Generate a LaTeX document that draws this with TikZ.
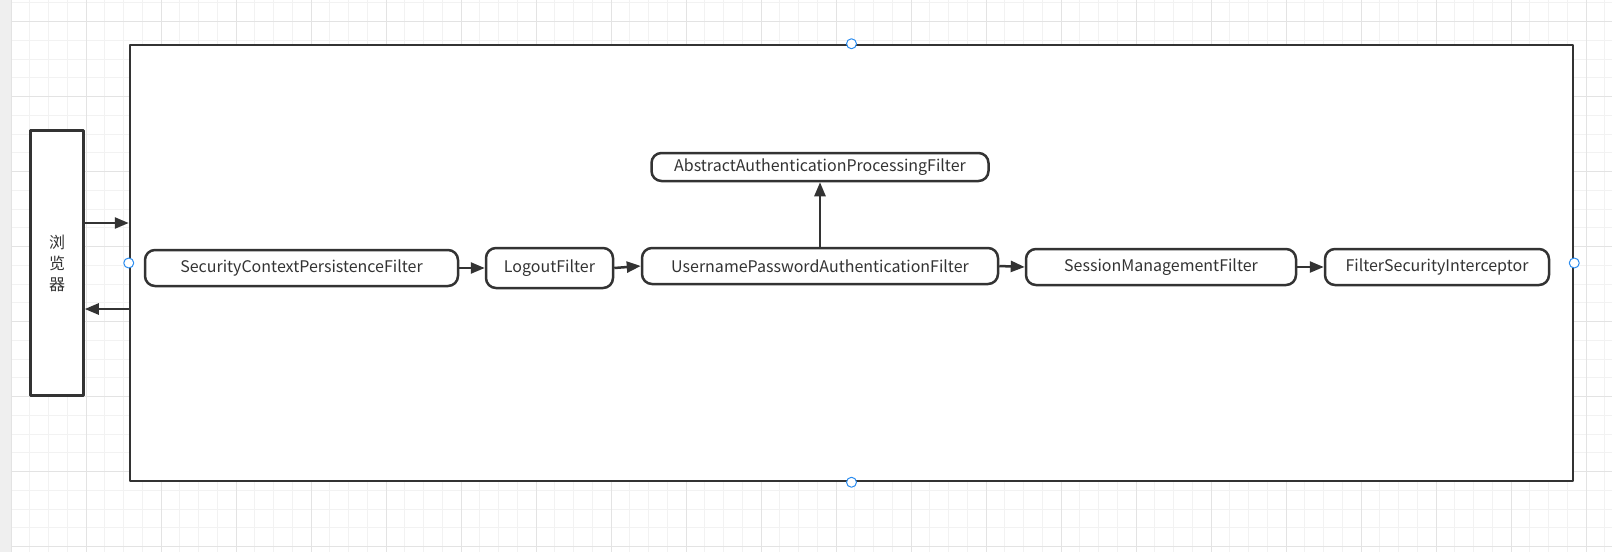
\documentclass[tikz,border=0pt]{standalone}
\usepackage{fontspec}
\setmainfont{Noto Sans CJK SC}
\usetikzlibrary{arrows.meta}
\definecolor{ink}{HTML}{333333}
\definecolor{gridminor}{HTML}{F2F2F2}
\definecolor{gridmajor}{HTML}{E3E3E3}
\definecolor{stripgray}{HTML}{EFEFEF}
\definecolor{handleblue}{HTML}{2A8CF0}
\begin{document}
\begin{tikzpicture}[x=0.5pt, y=-0.5pt, font=\fontsize{8}{10.5}\selectfont, text=ink, line join=round,
  filter/.style={draw=ink, line width=1.25pt, rounded corners=5pt, fill=white, inner sep=0pt, minimum height=18pt},
  box/.style={draw=ink, line width=1.25pt, fill=white, inner sep=0pt},
  arr/.style={draw=ink, line width=1.25pt, -{Triangle[length=7pt,width=5.5pt]}},
  handle/.style={circle, draw=handleblue, fill=white, line width=0.5pt, inner sep=0pt, minimum size=5pt}]
  % background grid
  \useasboundingbox (0,0) rectangle (1612,552);
  \fill[white] (0,0) rectangle (1612,552);
  \fill[stripgray] (0,0) rectangle (11,552);
  \foreach \x in {11,29.75,...,1612} \draw[gridminor, line width=0.5pt] (\x,0) -- (\x,552);
  \foreach \y in {2.95,21.7,...,552} \draw[gridminor, line width=0.5pt] (11,\y) -- (1612,\y);
  \foreach \x in {11,86,...,1612} \draw[gridmajor, line width=0.5pt] (\x,0) -- (\x,552);
  \foreach \y in {21.7,96.7,...,552} \draw[gridmajor, line width=0.5pt] (11,\y) -- (1612,\y);

  % frame and browser
  \node[box, minimum width=721.5pt, minimum height=218pt] (frame) at (851.5,263) {};
  \node[box, minimum width=26.5pt, minimum height=132.5pt, align=center] (browser) at (57,263) {浏\\览\\器};

  % filters
  \node[filter, minimum width=156.5pt] (scpf) at (301.5,268) {SecurityContextPersistenceFilter};
  \node[filter, minimum width=63.5pt, minimum height=20pt] (logout) at (549.5,268) {LogoutFilter};
  \node[filter, minimum width=178pt] (upaf) at (820,266) {UsernamePasswordAuthenticationFilter};
  \node[filter, minimum width=168.5pt, minimum height=14pt] (aapf) at (820,167) {AbstractAuthenticationProcessingFilter};
  \node[filter, minimum width=135pt] (smf) at (1161,267) {SessionManagementFilter};
  \node[filter, minimum width=112pt] (fsi) at (1437,267) {FilterSecurityInterceptor};

  % connectors
  \draw[arr] (browser.east |- 0,223) -- (frame.west |- 0,223);
  \draw[arr] (frame.west |- 0,309) -- (browser.east |- 0,309);
  \draw[arr] (scpf.east) -- (logout.west);
  \draw[arr] (logout.east) -- (upaf.west);
  \draw[arr] (upaf.north) -- (aapf.south);
  \draw[arr] (upaf.east) -- (smf.west);
  \draw[arr] (smf.east) -- (fsi.west);

  % selection handles
  \node[handle] (hn) at (frame.north) {};
  \node[handle] (hs) at (frame.south) {};
  \node[handle] (hw) at (frame.west) {};
  \node[handle] (he) at (frame.east) {};
\end{tikzpicture}
\end{document}
